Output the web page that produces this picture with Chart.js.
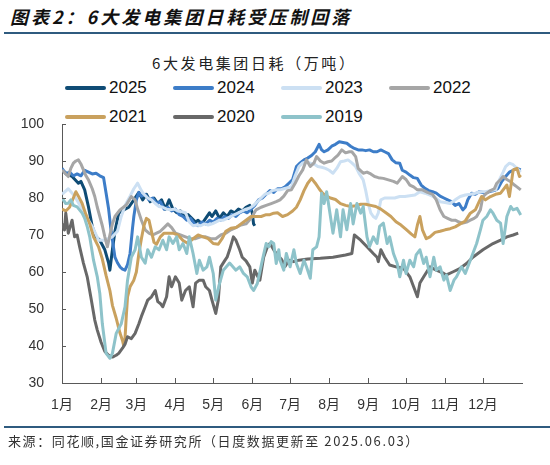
<!DOCTYPE html>
<html>
<head>
<meta charset="utf-8">
<script src="https://cdn.jsdelivr.net/npm/chart.js@4.4.1/dist/chart.umd.min.js"></script>
<style>
  body { margin:0; background:#fff; width:550px; height:465px; overflow:hidden; position:relative; }
  #chart { position:absolute; left:0; top:0; }
  #head { position:absolute; left:10px; top:3px; font:italic bold 18px "Noto Sans CJK SC"; letter-spacing:3px; color:#111; white-space:nowrap; }
  .rule { position:absolute; left:4px; width:546px; height:2px; background:#2F5B7F; }
  #sub { position:absolute; left:152px; top:52px; font:15px "Noto Sans CJK SC"; letter-spacing:2.6px; color:#222; white-space:nowrap; }
  #legend .item { position:absolute; height:20px; font:17px "Liberation Sans", Arial, sans-serif; color:#111; }
  #legend .swatch { position:absolute; left:0; top:8px; width:41px; height:4px; border-radius:2px; }
  #legend .lab { position:absolute; left:44px; top:0; line-height:20px; }
  #src { position:absolute; left:8px; top:431px; font:13px "Noto Sans CJK SC"; letter-spacing:1.6px; color:#333; white-space:nowrap; }
</style>
</head>
<body>
<div id="head">图表2：6大发电集团日耗受压制回落</div>
<div class="rule" style="top:32px"></div>
<div id="sub">6大发电集团日耗（万吨）</div>
<div id="legend"></div>
<canvas id="chart" width="550" height="465"></canvas>
<div class="rule" style="top:426px"></div>
<div id="src">来源：同花顺,国金证券研究所（日度数据更新至 2025.06.03）</div>
<script>
// x = day of year (0 = 1月1日)
const monthStarts = [0, 31, 59, 90, 120, 151, 181, 212, 243, 273, 304, 334];
const monthLabels = ['1月','2月','3月','4月','5月','6月','7月','8月','9月','10月','11月','12月'];
const yTicks = [30, 40, 50, 60, 70, 80, 90, 100];

const years = ['2025', '2024', '2023', '2022', '2021', '2020', '2019'];
const colors = ['#0F4C75', '#3D7DC8', '#CCE0F3', '#A6A6A6', '#C9A15E', '#686868', '#8EC3CA'];

const s2025 = [[0,87.6],[4,86.5],[8,85.8],[13,84],[15,84.5],[18,82.2],[21,77.6],[24,72.3],[27,69.5],[30,68.6],[34,66],
  [37,62.4],[38,60.5],[40,66],[42,71],[45,75.9],[49,76.8],[53,77.5],[57,79.5],[61,81.5],[64,79.5],[67,81],[70,79],[73,80],
  [76,78.5],[79,79.5],[82,77],[85,79.5],[88,77],[91,76],[94,76.5],[97,75],[100,75.5],[103,74.5],[106,73.5],[108,74],
  [111,73],[114,74.5],[117,76],[119,75],[122,76.5],[125,74.5],[128,76],[131,75],[134,76.5],[137,76],[140,77],[143,76.5],
  [146,77.5],[149,78],[151,76],[152,73],[153,72.5]];

const s2024 = [[0,88],[3,86.5],[6,87],[9,86],[12,86.5],[15,86],[18,87.5],[21,87],[24,86.5],[27,86.7],[30,86],[33,85.5],
  [35,81.3],[37,77],[39,71],[42,64],[44,62.5],[46,61.4],[48,60.8],[50,60.5],[52,62],[54,65],[56,72],[57,75],[59,79.5],
  [61,81.5],[63,80.5],[66,81],[69,79.5],[72,80],[75,78.5],[78,79],[81,77],[84,77.5],[87,76.5],[90,77],[93,75.5],[96,75],
  [99,74],[102,74.5],[105,73],[108,72.5],[111,73.5],[114,73],[117,74],[120,73.5],[123,74.5],[126,74],[129,75],[132,74.5],
  [135,75.5],[138,75],[141,76],[144,76.5],[147,76],[150,77],[153,78],[156,79.5],[159,80],[162,81],[165,82],[168,81.5],
  [171,82.5],[174,82.5],[177,83],[180,84],[183,85],[186,88.5],[189,89.5],[192,90.3],[195,90.8],[198,91.5],[201,92.5],
  [204,94.5],[206,93],[208,92.5],[211,93],[214,94],[217,94.5],[220,95.2],[223,95],[226,94.8],[229,94],[232,93.4],[235,93],
  [238,93],[241,92.8],[244,93],[247,92.5],[250,92.5],[253,93],[256,92.5],[259,92],[262,90.3],[265,89.5],[268,89.4],
  [270,87.5],[273,87],[276,86.2],[279,85.5],[282,85.3],[285,83.5],[288,82.6],[291,82],[294,81.7],[297,81.3],[300,80.5],
  [303,80],[306,79.5],[309,79],[312,78],[315,78.5],[318,76.8],[320,77.5],[322,79.5],[325,81.3],[328,81],[331,81.7],
  [334,81.5],[337,81.5],[340,81.8],[343,82],[346,82.6],[349,84.5],[352,85.8],[355,87],[358,87.5],[361,88],[364,87.6]];

const s2023 = [[0,81],[5,82.5],[10,80.5],[16,77],[20,74.5],[24,72.3],[29,68.6],[34,68.6],[40,69.5],[44,71],[47,75],[50,78],
  [54,80.5],[57,82.5],[60,84],[63,82],[65,81],[68,80],[71,79.5],[74,78.5],[77,77.7],[80,77.5],[83,77],[86,76.8],[89,77],
  [92,76.5],[95,76.3],[98,76],[101,73.5],[104,72.5],[107,72.7],[110,72.5],[113,73],[116,72.7],[119,73],[122,73.5],[125,74],
  [128,74],[131,74.5],[134,75],[137,75.5],[140,76],[143,76.5],[146,77],[149,77.3],[152,78],[155,79],[158,80],[161,81],
  [164,81.3],[167,82],[170,82.2],[173,82.2],[176,82.5],[179,82.8],[182,83],[185,86],[188,88.5],[191,89.5],[194,89.8],
  [197,89.4],[200,89.2],[203,88.5],[206,88.3],[209,88],[212,87.5],[215,86.7],[218,88],[221,89.8],[224,90],[227,90.3],
  [230,89.5],[233,88.5],[236,86.5],[239,84.9],[241,82],[243,78.5],[245,76],[247,75],[249,74.5],[251,76],[253,79.5],
  [256,80],[260,80],[264,80],[268,80.4],[272,80.4],[276,80.6],[280,80.8],[284,81.7],[288,81.3],[292,80.8],[296,80.2],
  [300,79],[304,78.8],[308,78.5],[312,79.5],[316,80.4],[320,80.8],[324,81],[328,81.3],[332,81.7],[336,81.7],[340,82],
  [344,82.2],[347,84.9],[350,87],[352,88.5],[355,89.4],[358,89],[361,88],[364,87]];

const s2022 = [[0,87.6],[3,86.5],[5,85.8],[7,88],[9,89.4],[11,90],[13,90.3],[15,89.2],[17,87.6],[19,86],[21,84.9],[24,82.5],
  [26,80.4],[28,77.5],[30,75],[32,72.5],[34,69.5],[36,66.8],[38,70],[40,73],[42,75],[46,76.8],[51,78.1],[55,80.4],[58,79.5],
  [60,77],[63,74],[66,71.4],[69,70.5],[72,70],[75,70.5],[78,71],[81,72],[84,73],[87,72],[90,70.5],[94,70],[98,69.5],
  [102,69],[106,69],[110,69.5],[114,69.5],[118,69],[122,69],[126,70],[130,70.5],[134,71.4],[138,72],[142,72.7],[146,73],
  [150,74.5],[154,76.8],[158,77.5],[162,78],[166,78.5],[170,79],[173,79.5],[176,80.5],[179,82],[182,82.2],[185,84],
  [188,86],[191,87.6],[194,90.3],[197,88.5],[200,89.5],[202,91.2],[205,90],[208,89.4],[211,89.8],[214,90],[217,91],
  [219,91.6],[222,93],[225,92.2],[228,92.5],[230,92.5],[233,91.2],[235,88],[239,86.7],[242,87],[245,86.5],[248,85.8],
  [251,85.5],[255,85.3],[259,84.9],[263,84.5],[266,84],[270,85.8],[273,85],[276,83.5],[279,83],[282,82.2],[286,82.2],
  [290,81.5],[294,81],[297,79.5],[300,76.8],[303,75],[306,74.5],[309,74],[312,74],[315,73.5],[318,73.2],[321,73.5],
  [324,74],[327,74.5],[329,75],[332,76.8],[334,80.4],[337,81.3],[340,82],[343,82.5],[345,84],[348,85],[350,85.8],
  [353,85],[356,84.4],[359,83.5],[361,83],[364,82.2]];

const s2021 = [[0,77],[3,76.5],[6,77.5],[9,80],[11,81.7],[13,80.5],[16,78.5],[19,75.5],[22,73],[25,69.5],[29,66.8],[32,63.5],
  [35,59],[38,55],[40,51],[43,47.5],[46,43.5],[48,41.5],[49,40],[50,42],[51,48],[52,53.3],[54,56],[57,57.8],[59,60],[61,65],
  [63,69],[65,72.5],[67,74.5],[69,74],[71,71],[73,68],[75,67.5],[78,69.5],[81,70.5],[84,70.5],[88,70.5],[92,70],[96,68.5],
  [100,67.7],[104,69],[108,70],[112,69.5],[116,69],[120,67.7],[124,67.5],[127,69],[130,71],[134,71.8],[138,72],[142,73],
  [146,74],[150,75],[154,75],[158,75],[162,75.5],[165,75.5],[168,75.9],[171,76],[175,75],[179,75.5],[183,76.5],[186,77.5],
  [189,79.5],[192,82],[195,84],[198,85.3],[201,84],[204,82.5],[207,81.2],[210,80.5],[213,80],[217,79.6],[221,78.5],
  [225,78],[229,77.7],[233,77.9],[237,78.3],[241,78.3],[245,78],[249,77.7],[253,77],[257,76],[261,75],[265,73.6],
  [269,72.7],[273,71.5],[277,70.3],[280,69.5],[282,72.7],[284,75],[286,71.4],[289,69],[292,69.5],[296,70.7],[300,71],
  [304,71.4],[308,71.7],[312,72.2],[316,73],[320,73.8],[324,75.9],[328,76.8],[331,79],[333,80.4],[336,79.5],[340,80.4],
  [344,81],[348,81.3],[350,82.2],[353,83.5],[355,80.4],[358,87.6],[361,88],[363,85.8],[364,86.2]];

const s2020 = [[0,73],[2,71.4],[3,75.9],[5,70.5],[8,74],[10,69.5],[12,70],[14,66.8],[17,62.4],[20,58.7],[23,53],[26,47],
  [28,44.3],[31,41],[34,38.5],[37,37.5],[40,37],[43,37.5],[45,38],[48,39.4],[50,40.5],[52,42.5],[55,42],[58,43.4],[61,46],
  [63,48],[66,50.6],[68,52.4],[71,53.3],[74,55],[76,52],[78,51.5],[80,50.6],[83,53.3],[85,58.7],[87,56],[90,58.7],[93,57],
  [95,52.4],[98,55],[101,56],[104,50.6],[106,57],[109,57.8],[112,57.8],[114,56],[117,55],[119,52.4],[122,48.8],[124,52.4],
  [126,61.4],[129,63],[131,64],[133,66],[136,69.5],[138,68.6],[141,66],[143,64],[146,63],[149,61.4],[151,57],[153,60.5],
  [155,59],[157,57.8],[160,64],[163,66.8],[165,67.7],[168,66],[171,64.5],[174,63.5],[177,61.5],[180,63.2],[184,62.8],
  [188,63.2],[195,63.5],[205,63.7],[215,64],[225,64.6],[230,65],[232,70],[237,68.6],[242,66.8],[247,65],[250,64],
  [251,62.8],[253,66],[256,64],[260,61.9],[265,61.4],[271,61],[276,58.7],[279,56],[282,53.3],[284,57],[287,58.7],
  [292,61.4],[297,60.5],[303,59.6],[305,59.2],[310,60],[316,61],[321,62.3],[326,64],[334,66],[342,67.7],[348,68.6],
  [353,69.5],[358,70],[362,70.5]];

const s2019 = [[0,80],[2,79],[3,78.5],[5,78.6],[7,79.5],[9,78],[12,77.6],[16,75.9],[18,74.5],[20,72.3],[22,69.5],[25,63.2],
  [28,58.7],[30,54.2],[32,46],[35,38],[38,36.7],[40,38],[43,43.4],[47,46],[50,50.6],[52,57.8],[55,64],[58,66],[60,69.5],
  [63,64],[66,62.4],[68,66],[71,64],[74,66.8],[77,66],[80,68.6],[83,66],[85,69.5],[88,67.7],[91,69.5],[93,66],[96,67.7],
  [99,65],[101,69.5],[104,65],[107,59.6],[109,63.2],[112,60.5],[115,61.4],[117,64],[120,59.6],[122,52.4],[125,56.9],
  [128,60.5],[133,62.4],[138,60.5],[141,61.4],[144,59.6],[147,58.7],[150,56],[152,55],[155,56.9],[159,63.2],[162,67.7],
  [164,66.8],[166,68.2],[168,67.7],[170,62.3],[172,66],[173,63.2],[176,60.5],[178,65],[181,61.4],[184,66],[186,62.3],
  [189,59.6],[192,63.2],[194,61.4],[197,58.3],[199,66],[202,66.8],[204,69.5],[206,81.3],[208,78.5],[210,81.7],[213,75],
  [215,70.5],[218,76.8],[221,69.5],[223,76.8],[226,71.4],[229,78.5],[231,73],[234,78.5],[237,75.9],[239,77.7],[242,69.5],
  [244,66.8],[247,69.5],[250,67.7],[252,72.3],[255,73.2],[258,67.7],[260,69.5],[263,65],[266,62.3],[268,58.7],[271,63.2],
  [273,59.6],[276,63.2],[279,61.4],[281,64.6],[284,66],[287,62.3],[289,64],[292,58.7],[295,64],[297,60.5],[300,61.4],
  [303,57.8],[305,59.2],[308,55],[311,57.8],[313,58.7],[317,61.4],[320,59.6],[324,63.2],[326,65],[329,67.7],[332,71.4],
  [334,74],[337,75],[340,76.8],[342,75.9],[345,74],[348,73.2],[350,67.7],[353,75],[356,77.7],[358,76.8],[361,77.2],
  [364,75.4]];

const series = [s2025, s2024, s2023, s2022, s2021, s2020, s2019];

// legend, 4 per row like the original
const legend = document.getElementById('legend');
years.forEach(function(y, i) {
  const it = document.createElement('div');
  it.className = 'item';
  it.style.left = (65 + (i % 4) * 108) + 'px';
  it.style.top = (78 + Math.floor(i / 4) * 29) + 'px';
  it.innerHTML = '<span class="swatch" style="background:' + colors[i] + '"></span><span class="lab">' + y + '</span>';
  legend.appendChild(it);
});

const innerTicks = {
  id: 'innerTicks',
  afterDatasetsDraw(chart) {
    const ctx = chart.ctx, x = chart.scales.x, y = chart.scales.y;
    ctx.save();
    ctx.strokeStyle = '#595959';
    ctx.lineWidth = 1;
    ctx.beginPath();
    monthStarts.forEach(function(m) {
      const px = Math.round(x.getPixelForValue(m)) + 0.5;
      ctx.moveTo(px, y.bottom);
      ctx.lineTo(px, y.bottom - 5);
    });
    yTicks.forEach(function(v) {
      const py = Math.round(y.getPixelForValue(v)) + 0.5;
      ctx.moveTo(x.left, py);
      ctx.lineTo(x.left + 4, py);
    });
    ctx.stroke();
    ctx.restore();
  }
};

new Chart(document.getElementById('chart'), {
  type: 'line',
  data: {
    datasets: years.map(function(y, i) {
      return {
        label: y,
        data: series[i],
        borderColor: colors[i],
        backgroundColor: colors[i],
        borderWidth: 3,
        pointRadius: 0,
        tension: 0,
        borderJoinStyle: 'round',
        order: years.length - 1 - i
      };
    })
  },
  options: {
    responsive: false,
    animation: false,
    layout: { padding: { left: 0, right: 28, top: 124, bottom: 52 } },
    plugins: { legend: { display: false }, title: { display: false }, tooltip: { enabled: false } },
    scales: {
      x: {
        type: 'linear', min: 0, max: 365,
        afterBuildTicks: function(s) { s.ticks = monthStarts.map(function(v) { return { value: v }; }); },
        afterFit: function(s) { s.height = 30; },
        ticks: {
          autoSkip: false, maxRotation: 0, padding: 14, color: '#333',
          font: { family: '"Liberation Sans", Arial, "Noto Sans CJK SC"', size: 14 },
          callback: function(v, i) { return monthLabels[i]; }
        },
        grid: { display: false, drawTicks: false },
        border: { display: true, color: '#595959', width: 1 }
      },
      y: {
        min: 30, max: 100,
        afterBuildTicks: function(s) { s.ticks = yTicks.map(function(v) { return { value: v }; }); },
        afterFit: function(s) { s.width = 62; },
        ticks: { padding: 18, color: '#333', font: { family: '"Liberation Sans", Arial', size: 14 } },
        grid: { display: false, drawTicks: false },
        border: { display: true, color: '#595959', width: 1 }
      }
    }
  },
  plugins: [innerTicks]
});
</script>
</body>
</html>
